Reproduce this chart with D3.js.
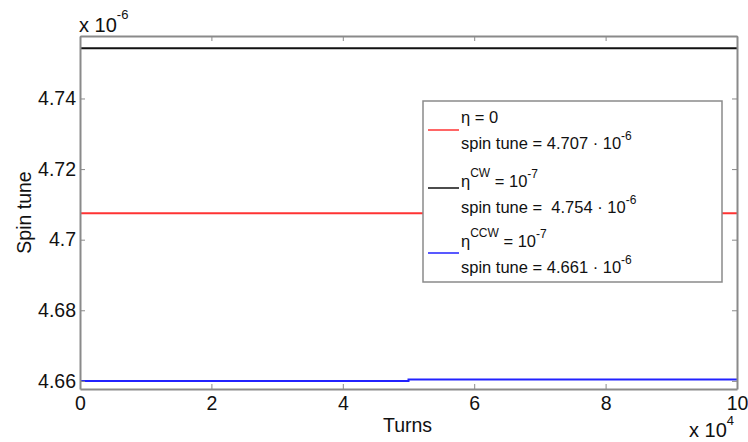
<!DOCTYPE html>
<html lang="en">
<head>
<meta charset="UTF-8">
<title>Spin tune</title>
<script src="https://cdn.jsdelivr.net/npm/d3@7"></script>
<style>
  body { margin: 0; background: #fff; }
  text { font-family: "Liberation Sans", Arial, sans-serif; fill: #111; }
</style>
</head>
<body>
<script>
// data (x in units of 10^4 turns, y in units of 10^-6)
const xTicks = [0, 2, 4, 6, 8, 10];
const yTicks = [4.66, 4.68, 4.70, 4.72, 4.74];
const turns = [0, 5, 5, 10];
const spinEta0 = [4.7075, 4.7075, 4.7075, 4.7075];
const spinCW = [4.7542, 4.7542, 4.7542, 4.7542];
const spinCCW = [4.6600, 4.6600, 4.6604, 4.6604];
const seriesNames = ["eta0", "cw", "ccw"];
const seriesColors = ["#ff3333", "#111111", "#2222ff"];

const width = 748, height = 442;
const m = {left: 80, right: 11, top: 36, bottom: 53};
const svg = d3.select("body").append("svg").attr("width", width).attr("height", height);

const x = d3.scaleLinear().domain([0, 10]).range([m.left, width - m.right]);
const y = d3.scaleLinear().domain([4.6577, 4.7577]).range([height - m.bottom, m.top]);

const axisCol = "#8a8a8a";

// lines
const line = d3.line().x((d, i) => x(turns[i])).y(d => y(d));
[spinEta0, spinCW, spinCCW].forEach((s, k) => {
  svg.append("path").datum(s).attr("d", line)
    .attr("fill", "none").attr("stroke", seriesColors[k]).attr("stroke-width", 2);
});

// axes
const xb = svg.append("g").attr("transform", `translate(0,${height - m.bottom})`)
  .call(d3.axisBottom(x).tickValues(xTicks).tickSizeInner(-5).tickSizeOuter(0).tickFormat(d3.format("d")));
const xt = svg.append("g").attr("transform", `translate(0,${m.top})`)
  .call(d3.axisTop(x).tickValues(xTicks).tickSizeInner(-5).tickSizeOuter(0).tickFormat(""));
const yl = svg.append("g").attr("transform", `translate(${m.left},0)`)
  .call(d3.axisLeft(y).tickValues(yTicks).tickSizeInner(-5).tickSizeOuter(0).tickPadding(4).tickFormat(d => d3.format("")(+d.toFixed(2))));
const yr = svg.append("g").attr("transform", `translate(${width - m.right},0)`)
  .call(d3.axisRight(y).tickValues(yTicks).tickSizeInner(-5).tickSizeOuter(0).tickFormat(""));
[xb, xt, yl, yr].forEach(g => {
  g.select(".domain").attr("stroke", axisCol).attr("stroke-width", 2);
  g.selectAll(".tick line").attr("stroke", axisCol);
  g.selectAll(".tick text").attr("font-size", 19.5).attr("fill", "#111")
    .attr("font-family", "Liberation Sans, Arial, sans-serif");
});
xb.selectAll(".tick text").attr("dy", 0).attr("y", 21);

// axis labels
svg.append("text").attr("x", (m.left + width - m.right) / 2 - 1).attr("y", 432)
  .attr("text-anchor", "middle").attr("font-size", 19.5).text("Turns");
svg.append("text").attr("transform", `translate(31,${(m.top + height - m.bottom) / 2}) rotate(-90)`)
  .attr("text-anchor", "middle").attr("font-size", 19.5).text("Spin tune");

// exponent labels
const e1 = svg.append("text").attr("x", 79).attr("y", 32).attr("font-size", 20);
e1.append("tspan").text("x 10");
e1.append("tspan").attr("dy", -13).attr("font-size", 13).text("-6");
const e2 = svg.append("text").attr("x", 689).attr("y", 437).attr("font-size", 20);
e2.append("tspan").text("x 10");
e2.append("tspan").attr("dy", -12).attr("font-size", 13).text("4");

// legend
const lg = svg.append("g").attr("transform", "translate(423,101)");
lg.append("rect").attr("width", 299).attr("height", 181)
  .attr("fill", "#fff").attr("stroke", axisCol).attr("stroke-width", 1.5);
const legendTop = ["\u03b7", "\u03b7", "\u03b7"];
const legendSup = ["", "CW", "CCW"];
const legendRhs = [" = 0", " = 10", " = 10"];
const legendRhsSup = ["", "-7", "-7"];
const legendVal = ["4.707", " 4.754", "4.661"];
const lineYs = [29, 87, 152];
const row1 = [22, 86, 146];
seriesNames.forEach((n, k) => {
  lg.append("line").attr("x1", 5).attr("x2", 36).attr("y1", lineYs[k]).attr("y2", lineYs[k])
    .attr("stroke", seriesColors[k]).attr("stroke-width", 1.5);
  const t1 = lg.append("text").attr("x", 38).attr("y", row1[k]).attr("font-size", 16.5);
  t1.append("tspan").text(legendTop[k]);
  if (legendSup[k]) t1.append("tspan").attr("dy", -10).attr("font-size", 12).text(legendSup[k]);
  t1.append("tspan").attr("dy", legendSup[k] ? 10 : 0).text(legendRhs[k]);
  if (legendRhsSup[k]) t1.append("tspan").attr("dy", -9).attr("font-size", 12).text(legendRhsSup[k]);
  const t2 = lg.append("text").attr("x", 38).attr("y", row1[k] + 26).attr("font-size", 16.5)
    .attr("xml:space", "preserve");
  t2.append("tspan").text("spin tune = " + legendVal[k] + " \u00b7 10");
  t2.append("tspan").attr("dy", -9).attr("font-size", 12).text("-6");
});
</script>
</body>
</html>
